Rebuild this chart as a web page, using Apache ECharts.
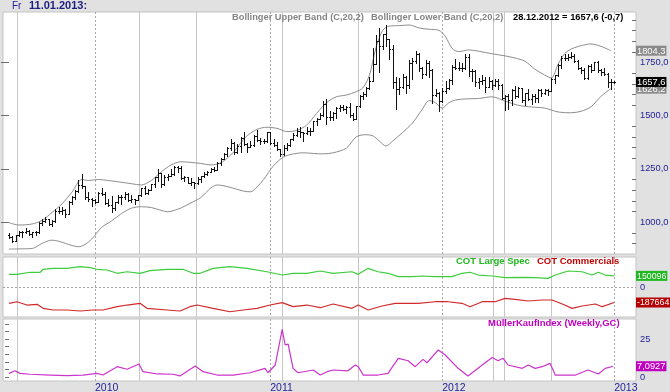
<!DOCTYPE html>
<html><head><meta charset="utf-8">
<script src="https://cdn.jsdelivr.net/npm/echarts@6/dist/echarts.min.js"></script>
<style>html,body{margin:0;padding:0;background:#e1e1e1}#c{width:670px;height:392px}</style>
</head><body><div id="c"></div><script>
// ---- weekly gold bars (index 0 = 03.07.2009, one per Friday, last = 28.12.2012) ----
const opens = [940,932,912,937,953,954,958,946,953,955,996,1006,1012,990,1003,1050,1052,1057,1040,1096,1117,1148,1175,1167,1119,1110,1104,1096,1138,1131,1091,1082,1064,1092,1117,1118,1133,1103,1107,1103,1125,1160,1135,1152,1179,1210,1229,1177,1212,1218,1226,1257,1256,1208,1210,1181,1189,1181,1204,1215,1227,1237,1247,1246,1275,1297,1318,1346,1372,1328,1359,1394,1368,1352,1362,1406,1385,1379,1380,1421,1369,1361,1342,1318,1348,1360,1388,1409,1429,1421,1419,1428,1429,1474,1486,1504,1556,1491,1492,1510,1536,1542,1529,1539,1501,1483,1543,1594,1602,1628,1663,1744,1852,1828,1884,1857,1814,1656,1624,1636,1683,1642,1746,1755,1788,1724,1696,1746,1713,1598,1606,1566,1617,1630,1665,1727,1725,1725,1725,1776,1711,1711,1659,1662,1669,1633,1660,1642,1663,1645,1583,1592,1573,1622,1590,1627,1572,1604,1579,1593,1584,1621,1605,1620,1616,1672,1691,1738,1771,1772,1776,1781,1758,1725,1712,1676,1731,1714,1751,1712,1705,1696,1658.3];
const highs = [950,934,940,958,960,972,963,955,960,998,1012,1025,1016,1010,1063,1072,1070,1062,1100,1120,1150,1196,1227,1168,1140,1115,1110,1140,1162,1142,1110,1120,1095,1125,1128,1140,1137,1127,1110,1128,1162,1168,1155,1180,1212,1249,1232,1220,1225,1251,1265,1262,1262,1215,1213,1205,1190,1210,1218,1234,1240,1255,1260,1280,1300,1322,1350,1388,1378,1365,1398,1424,1372,1380,1410,1432,1395,1392,1424,1423,1390,1375,1345,1360,1372,1390,1418,1440,1445,1425,1448,1440,1476,1488,1510,1569,1577,1520,1515,1538,1550,1550,1545,1560,1510,1545,1595,1610,1632,1682,1815,1877,1911,1885,1923,1860,1830,1680,1675,1695,1685,1760,1770,1802,1793,1730,1763,1755,1718,1625,1612,1628,1660,1670,1735,1764,1752,1745,1787,1790,1717,1715,1675,1692,1680,1680,1665,1670,1670,1650,1598,1600,1625,1640,1632,1630,1607,1625,1600,1600,1625,1625,1625,1625,1675,1692,1740,1778,1790,1788,1798,1790,1760,1730,1725,1735,1740,1752,1755,1720,1721,1700,1670];
const lows = [925,905,910,935,932,950,940,932,938,950,988,1002,986,983,1000,1042,1040,1025,1040,1085,1110,1140,1160,1108,1100,1075,1090,1092,1125,1083,1075,1045,1058,1088,1085,1110,1100,1095,1085,1102,1120,1130,1132,1150,1165,1195,1166,1175,1196,1215,1220,1235,1200,1192,1182,1176,1158,1180,1190,1212,1222,1236,1240,1245,1270,1295,1312,1340,1318,1325,1330,1360,1330,1350,1358,1380,1365,1370,1378,1365,1355,1336,1309,1315,1340,1355,1385,1405,1400,1381,1415,1410,1428,1455,1482,1500,1462,1478,1480,1488,1522,1524,1510,1495,1478,1483,1540,1578,1590,1625,1660,1740,1705,1813,1825,1764,1630,1532,1600,1630,1605,1630,1670,1748,1710,1676,1692,1680,1561,1590,1523,1563,1605,1625,1650,1720,1712,1710,1720,1687,1663,1640,1627,1650,1612,1632,1625,1640,1625,1578,1527,1530,1550,1580,1585,1562,1548,1575,1555,1565,1565,1590,1600,1598,1615,1652,1685,1725,1762,1760,1772,1753,1720,1700,1673,1672,1705,1713,1705,1690,1690,1635,1625];
const closes = [932,912,937,953,954,958,946,953,955,996,1006,1012,990,1003,1050,1052,1057,1040,1096,1117,1148,1175,1167,1119,1110,1104,1096,1138,1131,1091,1082,1064,1092,1117,1118,1133,1103,1107,1103,1125,1160,1135,1152,1179,1210,1229,1177,1212,1218,1226,1257,1256,1208,1210,1181,1189,1181,1204,1215,1227,1237,1247,1246,1275,1297,1318,1346,1372,1328,1359,1394,1368,1352,1362,1406,1385,1379,1380,1421,1369,1361,1342,1318,1348,1360,1388,1409,1429,1421,1419,1428,1429,1474,1486,1504,1556,1491,1492,1510,1536,1542,1529,1539,1501,1483,1543,1594,1602,1628,1663,1744,1852,1828,1884,1857,1814,1656,1624,1636,1683,1642,1746,1755,1788,1724,1696,1746,1713,1598,1606,1566,1617,1630,1665,1727,1725,1725,1725,1776,1711,1711,1659,1662,1669,1633,1660,1642,1663,1645,1583,1592,1573,1622,1590,1627,1572,1604,1579,1593,1584,1621,1605,1620,1616,1672,1691,1738,1771,1772,1776,1781,1758,1725,1712,1676,1731,1714,1751,1712,1705,1696,1658.3,1657.6];
const plusMark = [183, 1659];

// ---- Bollinger bands (C,20,2) ----
const upperIdx = [0,3,7,10,13,16,19,22,24,27,30,33,37,40,43,46,49,52,55,58,61,64,66,68,70,72,75,78,81,84,87,90,93,96,99,102,105,107,109,111,113,115,118,121,124,127,130,132,134,136,139,142,146,150,153,156,159,162,164,166,168,170,173,176,179,182];
const upperBand = [997,986,991,1008,1045,1085,1140,1200,1195,1200,1195,1189,1180,1174,1195,1235,1268,1283,1280,1275,1268,1278,1300,1330,1370,1405,1435,1445,1440,1425,1430,1455,1510,1560,1588,1596,1612,1630,1690,1820,1900,1920,1922,1925,1911,1905,1900,1870,1815,1800,1808,1802,1790,1780,1770,1755,1718,1690,1676,1740,1790,1812,1828,1836,1825,1804.3];
const lowerIdx = [0,3,7,10,13,15,17,19,21,23,25,28,31,34,37,40,43,46,48,50,52,55,58,61,63,65,68,71,73,75,77,80,83,86,89,92,95,98,102,105,108,110,112,114,116,119,122,125,127,129,131,133,135,138,142,146,150,154,158,162,166,170,173,176,179,182];
const lowerBand = [873,874,876,900,915,910,900,890,884,895,920,975,1005,1040,1065,1072,1068,1055,1048,1055,1066,1090,1115,1160,1174,1170,1158,1145,1142,1165,1200,1265,1305,1320,1325,1322,1320,1325,1347,1400,1410,1405,1380,1357,1380,1420,1465,1530,1570,1560,1535,1560,1573,1578,1580,1588,1568,1548,1540,1535,1517,1513,1520,1541,1590,1626.2];

// ---- COT ----
const specIdx = [0,2.4,6.4,9.4,10.3,13.3,17.5,21.5,24.5,26.6,29.6,32.7,35.7,39.6,42.6,47.8,52.6,55.7,57.8,61.7,66.8,72,78,82.6,85.9,90.1,94.1,98,103.7,105.6,108.6,111.6,114.6,117.7,121.9,124.9,128.9,134,137,139.4,141.9,146.1,150,155.2,159.1,163,165.2,169.1,173.3,176.3,178.2,180.3,183];
const largeSpec = [170000,170000,196000,196000,234000,246000,246000,267000,254000,234000,225000,183000,203000,183000,216000,234000,234000,183000,183000,246000,267000,246000,203000,161000,183000,183000,212000,183000,203000,170000,246000,203000,183000,140000,140000,149000,140000,140000,183000,196000,161000,149000,127000,132000,127000,119000,161000,212000,203000,161000,196000,161000,150096];
const comIdx = [0,2.4,5.4,8.5,10.3,13.3,17.5,21.5,25.4,28.4,32.7,35.7,39.6,41.7,47.8,51.7,54.7,56.9,61.7,66.8,70.8,75,78.9,82.6,85.9,90.1,94.1,98,103.7,105.6,108.6,112.8,116.8,123.7,128.9,132.8,137,139.4,143.1,147,150,153,157,161.2,164.2,167.3,170.3,173.3,177.3,179.4,183];
const commercials = [-198000,-178000,-220000,-211000,-262000,-283000,-283000,-296000,-283000,-283000,-241000,-220000,-198000,-262000,-283000,-296000,-241000,-220000,-262000,-305000,-283000,-262000,-220000,-190000,-241000,-220000,-254000,-207000,-262000,-220000,-283000,-232000,-198000,-198000,-178000,-178000,-198000,-241000,-178000,-178000,-135000,-147000,-169000,-156000,-156000,-207000,-262000,-232000,-207000,-241000,-187664];

// ---- MüllerKaufIndex ----
const mkiIdx = [0,1.8,3.3,6.4,12.4,17.5,22.4,26.6,28.4,32.7,35.7,39.3,40.5,44.8,49.6,51.7,56.3,58.7,62.9,67.8,72.9,77.4,78.3,80.5,82.6,83.5,84.4,85.9,87.4,92,94.1,96.2,98,102.5,104.7,105.6,107.1,111.6,114.6,117.7,120.7,122.8,125.2,126.4,129.8,131.9,135.8,138.8,143.1,146.1,147.9,149.4,150.9,155.2,157,159.1,161.2,163.6,165.2,171.3,175.1,178.2,180.3,182.7];
const mki = [2.4,4.1,2.4,1.8,1.3,0.9,1.3,2.4,1.3,6.8,5.1,8.6,3.5,2.0,1.8,0.7,7.2,3.5,1.3,1.3,2.8,5.7,2.8,7.9,31.4,21.1,21.7,5.7,2.8,4.6,1.3,3.5,4.6,4.1,7.9,6.8,1.3,1.3,2.4,12.3,10.7,6.8,11.6,9.4,17.8,14.5,5.7,0.7,7.9,12.9,10.7,12.3,7.9,5.7,7.9,5.7,6.8,9.0,1.3,1.3,4.6,2.0,5.7,7.0927];

// ---- axes / markers ----
const yearIdx = [26,79,131,183];
const yearLabels = ['2010','2011','2012','2013'];
const eventIdx = [2.4,39.3,56.6,82.6,105.6,146.4,149.7,163.9];
const priceTicks = [1000,1250,1500,1750];
const priceMinorTicks = [900,950,1050,1100,1150,1200,1300,1350,1400,1450,1550,1600,1650,1700,1800,1850,1900,1950];
const mkiTicks = [0,5,10,15,20,25,30,35];
const mkiLabels = [0,25];
const lastUpper = 1804.3, lastLower = 1626.2, lastClose = 1657.6;
const lastSpec = 150096, lastCom = -187664, lastMki = 7.0927;

const FONT = '"Liberation Sans", Arial, sans-serif';
const NAVY = '#23239a';
const X_MIN = -1.83, X_MAX = 189.6;
const zip = (a, b) => a.map((v, i) => [v, b[i]]);
const fmt = (v, d) => v.toFixed(d).replace('.', ',');

const gridBase = {left: 3, right: 34, show: true, backgroundColor: '#ffffff', borderColor: '#c4c4c4', borderWidth: 1, containLabel: false, outerBoundsMode: 'none'};
const grids = [
  Object.assign({top: 12, height: 242}, gridBase),
  Object.assign({top: 257, height: 60}, gridBase),
  Object.assign({top: 319, height: 62}, gridBase)
];

const xAxes = [0, 1, 2].map(i => ({
  type: 'value', gridIndex: i, min: X_MIN, max: X_MAX,
  axisLine: {show: false}, axisTick: {show: false}, splitLine: {show: false},
  axisLabel: i === 2 ? {
    show: true, customValues: yearIdx, align: 'left', margin: 2, showMinLabel: true, showMaxLabel: true,
    color: NAVY, fontFamily: FONT, fontSize: 10.5,
    formatter: v => { const k = yearIdx.indexOf(v); return k >= 0 ? yearLabels[k] : ''; }
  } : {show: false}
}));

const boxStyle = (bg, fs) => ({color: '#ffffff', backgroundColor: bg, padding: [1, 1, 0, 1], fontFamily: FONT, fontSize: fs, lineHeight: 10});
const plainStyle = {color: NAVY, padding: [0, 0, 0, 4], fontFamily: FONT, fontSize: 9.3};

// label order: the overlapping value boxes sit in the middle of the list (drawn gray first, black on top)
const mainLabelValues = [lastUpper, 1000, lastLower, lastClose, 1250, 1500, 1750];

const yAxes = [
  {
    type: 'value', gridIndex: 0, position: 'right', min: 850, max: 1986,
    axisLine: {show: false}, splitLine: {show: false},
    axisTick: {show: true, inside: true, length: 8, customValues: priceTicks, lineStyle: {color: '#707070'}},
    axisLabel: {
      show: true, margin: 0, hideOverlap: false,
      customValues: mainLabelValues,
      formatter: v => v === lastUpper ? '{g|' + fmt(v, 1) + '}' : v === lastLower ? '{g|' + fmt(v, 1) + '}' : v === lastClose ? '{k|' + fmt(v, 1) + '}' : '{n|' + fmt(v, 1) + '}',
      rich: {n: plainStyle, g: boxStyle('#8a8a8a', 9.3), k: boxStyle('#000000', 9.3)}
    }
  },
  {
    type: 'value', gridIndex: 1, position: 'right', min: -372000, max: 390000,
    axisLine: {show: false}, splitLine: {show: false}, axisTick: {show: false},
    axisLabel: {
      show: true, margin: 0, showMinLabel: true, showMaxLabel: true, hideOverlap: false,
      customValues: [0, lastSpec, lastCom],
      formatter: v => v === lastSpec ? '{gr|' + v + '}' : v === lastCom ? '{rd|' + v + '}' : '{n|0}',
      rich: {n: plainStyle, gr: boxStyle('#1fb81f', 8.8), rd: boxStyle('#b40000', 8.8)}
    }
  },
  {
    type: 'value', gridIndex: 2, position: 'right', min: -2.63, max: 38.2,
    axisLine: {show: false}, splitLine: {show: false},
    axisTick: {show: true, inside: true, length: 4, customValues: mkiTicks, lineStyle: {color: '#707070'}},
    axisLabel: {
      show: true, margin: 0, showMinLabel: true, showMaxLabel: true, hideOverlap: false,
      customValues: mkiLabels.concat([lastMki]),
      formatter: v => v === lastMki ? '{m|' + fmt(v, 4) + '}' : '{n|' + v + '}',
      rich: {n: plainStyle, m: boxStyle('#c000c0', 9.3)}
    }
  }
];

// vertical grid lines (solid event lines, dotted year lines)
function vlineSeries(i) {
  const data = eventIdx.map(v => [v, 0]).concat(yearIdx.map(v => [v, 1]));
  return {
    type: 'custom', xAxisIndex: i, yAxisIndex: i, silent: true, z: 1, data: data,
    encode: {x: 0},
    renderItem: (params, api) => {
      const cs = params.coordSys;
      const x = Math.round(api.coord([api.value(0), 0])[0]) + 0.5;
      const dashed = api.value(1) === 1;
      return {type: 'line', shape: {x1: x, y1: cs.y, x2: x, y2: cs.y + cs.height},
        style: {stroke: dashed ? '#a9a9a9' : '#c6c6c6', lineWidth: 1, lineDash: dashed ? [2, 2] : null}};
    }
  };
}

const ohlcData = closes.map((c, i) => [i, opens[i], highs[i], lows[i], c]);

const option = {
  animation: false,
  backgroundColor: '#e1e1e1',
  grid: grids,
  xAxis: xAxes,
  yAxis: yAxes,
  graphic: [
    {type: 'text', x: 12, y: 6, style: {text: 'Fr', fill: NAVY, font: '10px ' + FONT, verticalAlign: 'middle'}},
    {type: 'text', x: 29, y: 6, style: {text: '11.01.2013:', fill: '#1c1c84', font: 'bold 11px ' + FONT, verticalAlign: 'middle'}},
    {type: 'text', x: 232, y: 17, z: 10, style: {text: 'Bollinger Upper Band (C,20,2)', fill: '#858585', font: 'bold 9.3px ' + FONT, verticalAlign: 'middle'}},
    {type: 'text', x: 371, y: 17, z: 10, style: {text: 'Bollinger Lower Band (C,20,2)', fill: '#858585', font: 'bold 9.3px ' + FONT, verticalAlign: 'middle'}},
    {type: 'text', x: 513, y: 17, z: 10, style: {text: '28.12.2012 = 1657,6 (-0,7)', fill: '#000000', font: 'bold 9.3px ' + FONT, verticalAlign: 'middle'}},
    {type: 'text', x: 456, y: 261, z: 10, style: {text: 'COT Large Spec', fill: '#1fb81f', font: 'bold 9.5px ' + FONT, verticalAlign: 'middle'}},
    {type: 'text', x: 537, y: 261, z: 10, style: {text: 'COT Commercials', fill: '#c00000', font: 'bold 9.5px ' + FONT, verticalAlign: 'middle'}},
    {type: 'text', x: 488, y: 323, z: 10, style: {text: 'MüllerKaufIndex (Weekly,GC)', fill: '#c000c0', font: 'bold 9.5px ' + FONT, verticalAlign: 'middle'}}
  ],
  series: [
    vlineSeries(0), vlineSeries(1), vlineSeries(2),
    {
      type: 'custom', xAxisIndex: 0, yAxisIndex: 0, silent: true, z: 3,
      data: priceMinorTicks.map(v => [X_MAX, v]), encode: {x: 0, y: 1},
      renderItem: (params, api) => {
        const cs = params.coordSys;
        const y = Math.round(api.coord([api.value(0), api.value(1)])[1]) + 0.5;
        const xr = cs.x + cs.width;
        return {type: 'line', shape: {x1: xr - 4, y1: y, x2: xr, y2: y}, style: {stroke: '#707070', lineWidth: 1}};
      }
    },
    {
      name: 'Bollinger Upper Band', type: 'line', xAxisIndex: 0, yAxisIndex: 0, z: 2,
      data: zip(upperIdx, upperBand), showSymbol: false, smooth: 0.3, silent: true,
      lineStyle: {color: '#8e8e8e', width: 1}
    },
    {
      name: 'Bollinger Lower Band', type: 'line', xAxisIndex: 0, yAxisIndex: 0, z: 2,
      data: zip(lowerIdx, lowerBand), showSymbol: false, smooth: 0.3, silent: true,
      lineStyle: {color: '#8e8e8e', width: 1}
    },
    {
      name: 'Gold', type: 'custom', xAxisIndex: 0, yAxisIndex: 0, z: 4, silent: true,
      data: ohlcData, encode: {x: 0, y: [1, 2, 3, 4]},
      renderItem: (params, api) => {
        const i = api.value(0);
        const h = api.coord([i, api.value(2)]);
        const l = api.coord([i, api.value(3)]);
        const o = api.coord([i, api.value(1)]);
        const c = api.coord([i, api.value(4)]);
        const px = Math.round(h[0]) + 0.5;
        const st = {stroke: '#111111', lineWidth: 1};
        const oy = Math.round(o[1]) + 0.5, cy = Math.round(c[1]) + 0.5;
        return {type: 'group', children: [
          {type: 'line', shape: {x1: px, y1: Math.round(h[1]), x2: px, y2: Math.round(l[1]) + 1}, style: st},
          {type: 'line', shape: {x1: px - 1.5, y1: oy, x2: px, y2: oy}, style: st},
          {type: 'line', shape: {x1: px, y1: cy, x2: px + 1.5, y2: cy}, style: st}
        ]};
      }
    },
    {
      type: 'custom', xAxisIndex: 0, yAxisIndex: 0, z: 4, silent: true,
      data: [plusMark], encode: {x: 0, y: 1},
      renderItem: (params, api) => {
        const p = api.coord([api.value(0), api.value(1)]);
        const x = Math.round(p[0]) + 0.5, y = Math.round(p[1]) + 0.5;
        const st = {stroke: '#111111', lineWidth: 1};
        return {type: 'group', children: [
          {type: 'line', shape: {x1: x - 1.5, y1: y, x2: x + 1.5, y2: y}, style: st},
          {type: 'line', shape: {x1: x, y1: y - 1.5, x2: x, y2: y + 1.5}, style: st}
        ]};
      }
    },
    {
      name: 'COT Large Spec', type: 'line', xAxisIndex: 1, yAxisIndex: 1, z: 3,
      data: zip(specIdx, largeSpec), showSymbol: false, silent: true,
      lineStyle: {color: '#3ccc3c', width: 1.2},
      markLine: {silent: true, symbol: 'none', label: {show: false}, animation: false,
        lineStyle: {color: '#a0a0a0', type: [2, 2], width: 1}, data: [{yAxis: 0}]}
    },
    {
      name: 'COT Commercials', type: 'line', xAxisIndex: 1, yAxisIndex: 1, z: 3,
      data: zip(comIdx, commercials), showSymbol: false, silent: true,
      lineStyle: {color: '#d02a2a', width: 1.2}
    },
    {
      name: 'MüllerKaufIndex', type: 'line', xAxisIndex: 2, yAxisIndex: 2, z: 3,
      data: zip(mkiIdx, mki), showSymbol: false, silent: true,
      lineStyle: {color: '#cc33cc', width: 1.2}
    }
  ]
};

const chart = echarts.init(document.getElementById('c'), null, {renderer: 'canvas'});
chart.setOption(option);
</script></body></html>
